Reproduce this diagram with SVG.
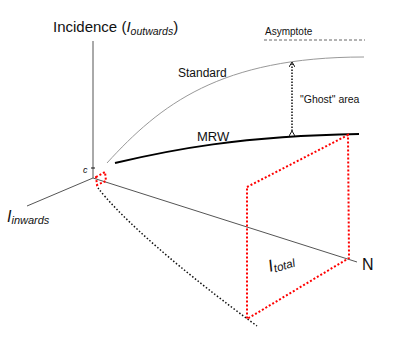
<svg xmlns="http://www.w3.org/2000/svg" width="399" height="351" viewBox="0 0 399 351">
<style>
text{font-family:"Liberation Sans",Arial,sans-serif;fill:#111}
.ax{stroke:#555;stroke-width:1;fill:none}
.red{stroke:#f00;stroke-width:2;stroke-dasharray:2 2;fill:none}
</style>
<defs>
<marker id="ah" markerWidth="6" markerHeight="6" refX="5" refY="3" orient="auto" markerUnits="userSpaceOnUse">
<path d="M0,0 L5,3 L0,6" fill="none" stroke="#111" stroke-width="1"/>
</marker>
</defs>
<rect width="399" height="351" fill="#fff"/>
<g id="connectors">
<line class="ax" x1="93" y1="41" x2="93" y2="178"/>
<line x1="91" y1="168" x2="95" y2="168" stroke="#111" stroke-width="1"/>
<line class="ax" x1="93" y1="178" x2="27" y2="206"/>
<line class="ax" x1="93" y1="178" x2="357" y2="262"/>
<line x1="264" y1="40" x2="365" y2="40" stroke="#666" stroke-width="1" stroke-dasharray="3 2"/>
<path d="M107,163 C160,105 220,57 364,57" fill="none" stroke="#999" stroke-width="1"/>
<path d="M115,163 C170,150 240,136 359,134" fill="none" stroke="#000" stroke-width="2"/>
<line x1="292" y1="131" x2="292" y2="62" stroke="#111" stroke-width="1.5" stroke-dasharray="1.5 1.5" marker-end="url(#ah)" marker-start="url(#ah)"/>
<path d="M98,188 C115,210 160,255 257,326" fill="none" stroke="#111" stroke-width="1.5" stroke-dasharray="1.5 2"/>
<polygon class="red" points="247,187 348,135 349,258 247,319"/>
<polygon class="red" stroke-width="1.2" stroke-dasharray="1.5 1.5" points="96,177 105,172 106,181 97,185"/>
</g>
<g id="title"><text x="53" y="32" font-size="15">Incidence (<tspan font-style="italic">I</tspan><tspan font-style="italic" font-size="10.5" dy="3">outwards</tspan><tspan dy="-3">)</tspan></text></g>
<g id="asymptote"><text x="265" y="35" font-size="10">Asymptote</text></g>
<g id="standard"><text x="178" y="77" font-size="12">Standard</text></g>
<g id="ghost"><text x="300" y="103" font-size="10.5">"Ghost" area</text></g>
<g id="mrw"><text x="197" y="141" font-size="13">MRW</text></g>
<g id="origin"><text x="83" y="173" font-size="9" font-style="italic">c</text></g>
<g id="inwards"><text x="7" y="222" font-size="16" font-style="italic">I<tspan font-size="11" dy="2">inwards</tspan></text></g>
<g id="n"><text x="362" y="270" font-size="16">N</text></g>
<g id="total"><text transform="translate(270,272) rotate(-17)" font-size="17" font-style="italic">I<tspan font-size="11.5" dy="2">total</tspan></text></g>
</svg>
